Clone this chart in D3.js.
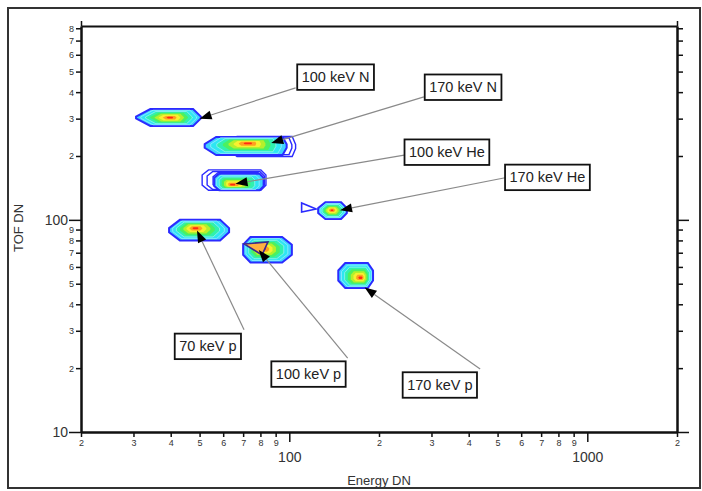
<!DOCTYPE html>
<html>
<head>
<meta charset="utf-8">
<title>TOF vs Energy</title>
<script src="https://d3js.org/d3.v7.min.js"></script>
<style>
body { margin: 0; background: #fff; }
svg { display: block; font-family: "Liberation Sans", Arial, sans-serif; }
</style>
</head>
<body>
<svg width="702" height="491"></svg>
<script>
// ---- data (energy DN, TOF DN) ----
var species = ["100 keV N", "170 keV N", "100 keV He", "170 keV He", "70 keV p", "100 keV p", "170 keV p"];
var energyRange = [[30.6, 50.5], [52, 98], [56, 82], [125, 156], [39.5, 62.8], [70, 102], [146, 191]];
var tofRange = [[277, 333], [202, 246], [138, 165], [101, 121], [80, 100], [63, 83], [47.7, 62.6]];
var peak = [[39.8, 303], [72.7, 230], [64.2, 146], [139, 111], [48.3, 91.6], [81.6, 72.9], [174, 53.2]];

var arrowTip = [[50, 300], [87, 230], [66, 148], [148, 111], [49, 89], [79, 72], [179, 48]];
var arrowTail = [[105, 419], [283, 380], [243, 202], [530, 158], [70.5, 30.3], [157, 22.3], [437, 19.8]];
var labelPos = [[143, 472], [383, 423], [338, 209], [735, 159], [53.3, 25.4], [116, 18.8], [320, 16.7]];

// extra outer contour loops
var loopBlob = [1, 1, 2, 2, 2];
var loopEnergy = [[62, 105], [66, 102], [51, 83.5], [53, 82.5], [55.5, 81]];
var loopTof = [[199, 247], [203, 243], [138, 172], [139, 169], [140, 167]];
var bowtie = [[110, 120], [110, 109], [123, 112.6]];
var innerTriangle = [[70.5, 77], [84.8, 78.7], [81, 68.3]];

var xDomain = [20, 2000], yDomain = [10, 820];
var xMajor = [100, 1000], yMajor = [10, 100];

// ---- style ----
// corner cuts of each blob outline: left inset, right inset, side vertex height
var blobCut = [[0.22, 0.12, 0.45], [0.14, 0.05, 0.4], [0.1, 0.08, 0.25], [0.25, 0.2, 0.35],
               [0.18, 0.15, 0.4], [0.15, 0.2, 0.3], [0.2, 0.15, 0.3]];
var levelScale = [1, 0.86, 0.72, 0.58, 0.45, 0.33, 0.21, 0.1];
var levelFill = ["#3fd2ff", "#2ee6f2", "#30f0b0", "#4cf060", "#b4f02c", "#f8f030", "#ffa020", "#ff2a12"];

var svg = d3.select("svg"),
	margin = {top: 26, right: 25, bottom: 59, left: 81},
	width = +svg.attr("width") - margin.left - margin.right,
	height = +svg.attr("height") - margin.top - margin.bottom;

var x = d3.scaleLog().domain(xDomain).range([0, width]),
	y = d3.scaleLog().domain(yDomain).range([height, 0]);

var g = svg.append("g")
	.attr("transform", "translate(" + margin.left + "," + margin.top + ")");

// outer frame
svg.append("rect")
	.attr("x", 8).attr("y", 8)
	.attr("width", 692).attr("height", 480)
	.attr("fill", "none").attr("stroke", "#333").attr("stroke-width", 2);

function outline(e, t, cut) {
	var x0 = x(e[0]), x1 = x(e[1]), y0 = y(t[1]), y1 = y(t[0]);
	var w = x1 - x0, h = y1 - y0;
	return [[x0, y0 + cut[2] * h], [x0 + cut[0] * w, y0], [x1 - cut[1] * w, y0], [x1, y0 + cut[2] * h],
		[x1, y1 - cut[2] * h], [x1 - cut[1] * w, y1], [x0 + cut[0] * w, y1], [x0, y1 - cut[2] * h]];
}

var line = d3.line().curve(d3.curveLinearClosed);

// extra loops under the blobs
loopBlob.forEach(function(b, i) {
	g.append("path")
		.attr("d", line(outline(loopEnergy[i], loopTof[i], blobCut[b])))
		.attr("fill", "none").attr("stroke", "#2b2bff").attr("stroke-width", 1.4);
});

// contour blobs
species.forEach(function(s, i) {
	var pts = outline(energyRange[i], tofRange[i], blobCut[i]);
	var px = x(peak[i][0]), py = y(peak[i][1]);
	levelScale.forEach(function(k, j) {
		var p = pts.map(function(d) { return [px + (d[0] - px) * k, py + (d[1] - py) * k]; });
		g.append("path")
			.attr("d", line(p))
			.attr("fill", levelFill[j])
			.attr("stroke", j == 0 ? "#2b2bff" : (j < 3 ? "#b8f4ff" : "none"))
			.attr("stroke-width", j == 0 ? 2 : 0.6);
	});
});

g.append("path")
	.attr("d", line(bowtie.map(function(d) { return [x(d[0]), y(d[1])]; })))
	.attr("fill", "none").attr("stroke", "#2b2bff").attr("stroke-width", 1.6);

g.append("path")
	.attr("d", line(innerTriangle.map(function(d) { return [x(d[0]), y(d[1])]; })))
	.attr("fill", "#ffb040").attr("stroke", "#3a2890").attr("stroke-width", 1.6);

// arrows
species.forEach(function(s, i) {
	var x0 = x(arrowTail[i][0]), y0 = y(arrowTail[i][1]),
		x1 = x(arrowTip[i][0]), y1 = y(arrowTip[i][1]);
	var a = Math.atan2(y1 - y0, x1 - x0), len = 12, hw = 4.5;
	var bx = x1 - len * Math.cos(a), by = y1 - len * Math.sin(a);
	g.append("line")
		.attr("x1", x0).attr("y1", y0).attr("x2", bx).attr("y2", by)
		.attr("stroke", "#8a8a8a").attr("stroke-width", 1.2);
	g.append("path")
		.attr("d", "M" + x1 + "," + y1 +
			"L" + (bx + hw * Math.sin(a)) + "," + (by - hw * Math.cos(a)) +
			"L" + (bx - hw * Math.sin(a)) + "," + (by + hw * Math.cos(a)) + "Z")
		.attr("fill", "#000");
});

// labels
species.forEach(function(s, i) {
	var cx = x(labelPos[i][0]), cy = y(labelPos[i][1]);
	var lg = g.append("g");
	var r = lg.append("rect");
	var t = lg.append("text")
		.attr("x", cx).attr("y", cy + 5)
		.attr("text-anchor", "middle")
		.style("font-size", "14.5px").attr("fill", "#222")
		.text(s);
	var tw = t.node().getComputedTextLength() + 9;
	r.attr("x", cx - tw / 2).attr("y", cy - 12.5)
		.attr("width", tw).attr("height", 25.5)
		.attr("fill", "#fff").attr("stroke", "#111").attr("stroke-width", 1.8);
});

// axes
function digit(d) {
	return Math.round(d / Math.pow(10, Math.floor(Math.log10(d) + 1e-9)));
}
var xMinor = x.ticks().filter(function(d) { return xMajor.indexOf(d) < 0; }),
	yMinor = y.ticks().filter(function(d) { return yMajor.indexOf(d) < 0; });

function styleAxis(sel, size) {
	sel.select(".domain").attr("stroke", "#111").attr("stroke-width", 2);
	sel.selectAll(".tick line").attr("stroke", "#111").attr("stroke-width", 1.5);
	sel.selectAll(".tick text").attr("fill", "#333").style("font-size", size + "px")
		.style("font-family", "'Liberation Sans', Arial, sans-serif");
}

var gx = g.append("g").attr("transform", "translate(0," + height + ")")
	.call(d3.axisBottom(x).tickValues(xMinor).tickSize(5).tickSizeOuter(0).tickPadding(3).tickFormat(digit));
styleAxis(gx, 9);
var gx2 = g.append("g").attr("transform", "translate(0," + height + ")")
	.call(d3.axisBottom(x).tickValues(xMajor).tickSize(10).tickSizeOuter(0).tickPadding(10).tickFormat(d3.format("d")));
styleAxis(gx2, 14);

var gy = g.append("g")
	.call(d3.axisLeft(y).tickValues(yMinor).tickSize(5).tickSizeOuter(0).tickPadding(2).tickFormat(digit));
styleAxis(gy, 9);
var gy2 = g.append("g")
	.call(d3.axisLeft(y).tickValues(yMajor).tickSize(12).tickSizeOuter(0).tickPadding(1).tickFormat(d3.format("d")));
styleAxis(gy2, 14);

var gr = g.append("g").attr("transform", "translate(" + width + ",0)")
	.call(d3.axisRight(y).tickValues(yMinor).tickSize(6).tickSizeOuter(0).tickFormat(""));
styleAxis(gr, 9);
var gr2 = g.append("g").attr("transform", "translate(" + width + ",0)")
	.call(d3.axisRight(y).tickValues(yMajor).tickSize(12).tickSizeOuter(0).tickFormat(""));
styleAxis(gr2, 9);

var gt = g.append("g")
	.call(d3.axisTop(x).tickValues(xDomain).tickSize(5).tickSizeOuter(0).tickFormat(""));
styleAxis(gt, 9);

// axis titles
svg.append("text")
	.attr("x", 379).attr("y", 485)
	.attr("text-anchor", "middle")
	.style("font-size", "13px").attr("fill", "#333")
	.text("Energy DN");

svg.append("text")
	.attr("transform", "translate(23,228) rotate(-90)")
	.attr("text-anchor", "middle")
	.style("font-size", "13px").attr("fill", "#333")
	.text("TOF DN");
</script>
</body>
</html>
